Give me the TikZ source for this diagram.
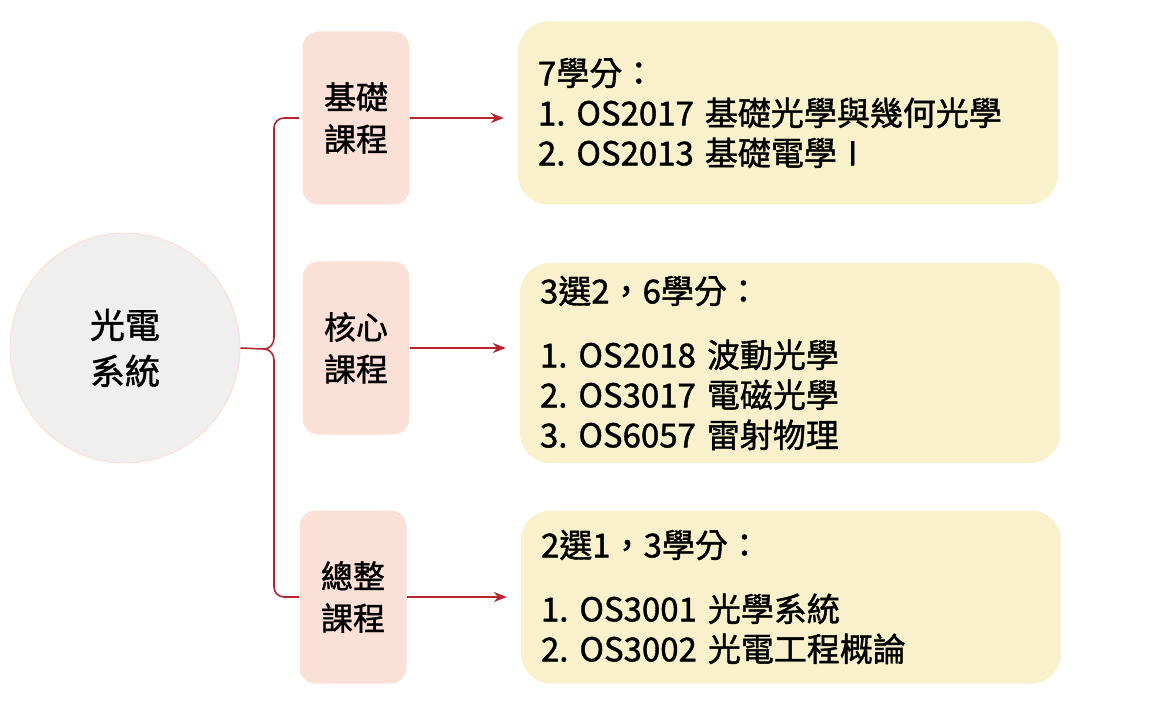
\documentclass[tikz,border=0pt]{standalone}
\usepackage{fontspec}
\setmainfont{Noto Sans CJK TC}[FakeBold=1.2]
\frenchspacing
\usetikzlibrary{arrows.meta}
\definecolor{linkred}{HTML}{B8242E}
\definecolor{pinkbox}{HTML}{FBE0D8}
\definecolor{creambox}{HTML}{F8F1CC}
\definecolor{roundgray}{HTML}{EFEFEF}
\tikzset{
  catbox/.style={fill=pinkbox,rounded corners=16pt,minimum width=107pt,minimum height=173pt,
    align=center,font=\fontsize{32}{42}\selectfont},
  listbox/.style={fill=creambox,rounded corners=30pt,text width=500pt,inner xsep=20pt,
    align=left,font=\fontsize{33}{40}\selectfont},
  link/.style={draw=linkred,line width=1.6pt},
}
\begin{document}
\begin{tikzpicture}[x=1pt,y=-1pt]
  \useasboundingbox (0,0) rectangle (1157,727);
  \node[circle,fill=roundgray,draw=pinkbox,line width=1pt,minimum size=230pt,
    font=\fontsize{35}{46}\selectfont,align=center] (hub) at (125,348) {光電\\系統};
  \node[catbox] (basic) at (356,118) {基礎\\課程};
  \node[catbox] (core) at (356,348) {核心\\課程};
  \node[catbox] (total) at (353,597) {總整\\課程};
  \node[listbox,minimum height=183pt] (basiclist) at (788,113) {7學分：\\1. OS2017 基礎光學與幾何光學\\2. OS2013 基礎電學 I};
  \node[listbox,minimum height=200pt] (corelist) at (790,363) {3選2，6學分：\\[24pt]1. OS2018 波動光學\\2. OS3017 電磁光學\\3. OS6057 雷射物理};
  \node[listbox,minimum height=173pt] (totallist) at (791,597) {2選1，3學分：\\[24pt]1. OS3001 光學系統\\2. OS3002 光電工程概論};
  % brace
  \coordinate (bt) at (299,118);
  \coordinate (bb) at (299,597);
  \draw[link] (bt) -- (284,118) to[out=180,in=90] (274,128) -- (274,338)
    to[out=270,in=0] (264,349) -- (hub.east);
  \draw[link] (264,349) to[out=0,in=90] (274,360) -- (274,587) to[out=270,in=180] (284,597) -- (bb);
  % arrows
  \foreach \a/\b in {basic/basiclist,core/corelist,total/totallist}{
    \coordinate (\a tip) at ([xshift=-14pt]\a.east -| \b.west);
    \draw[link,-{Stealth[length=13pt,width=10pt]}] (\a.east) -- (\a tip);
  }
\end{tikzpicture}
\end{document}
